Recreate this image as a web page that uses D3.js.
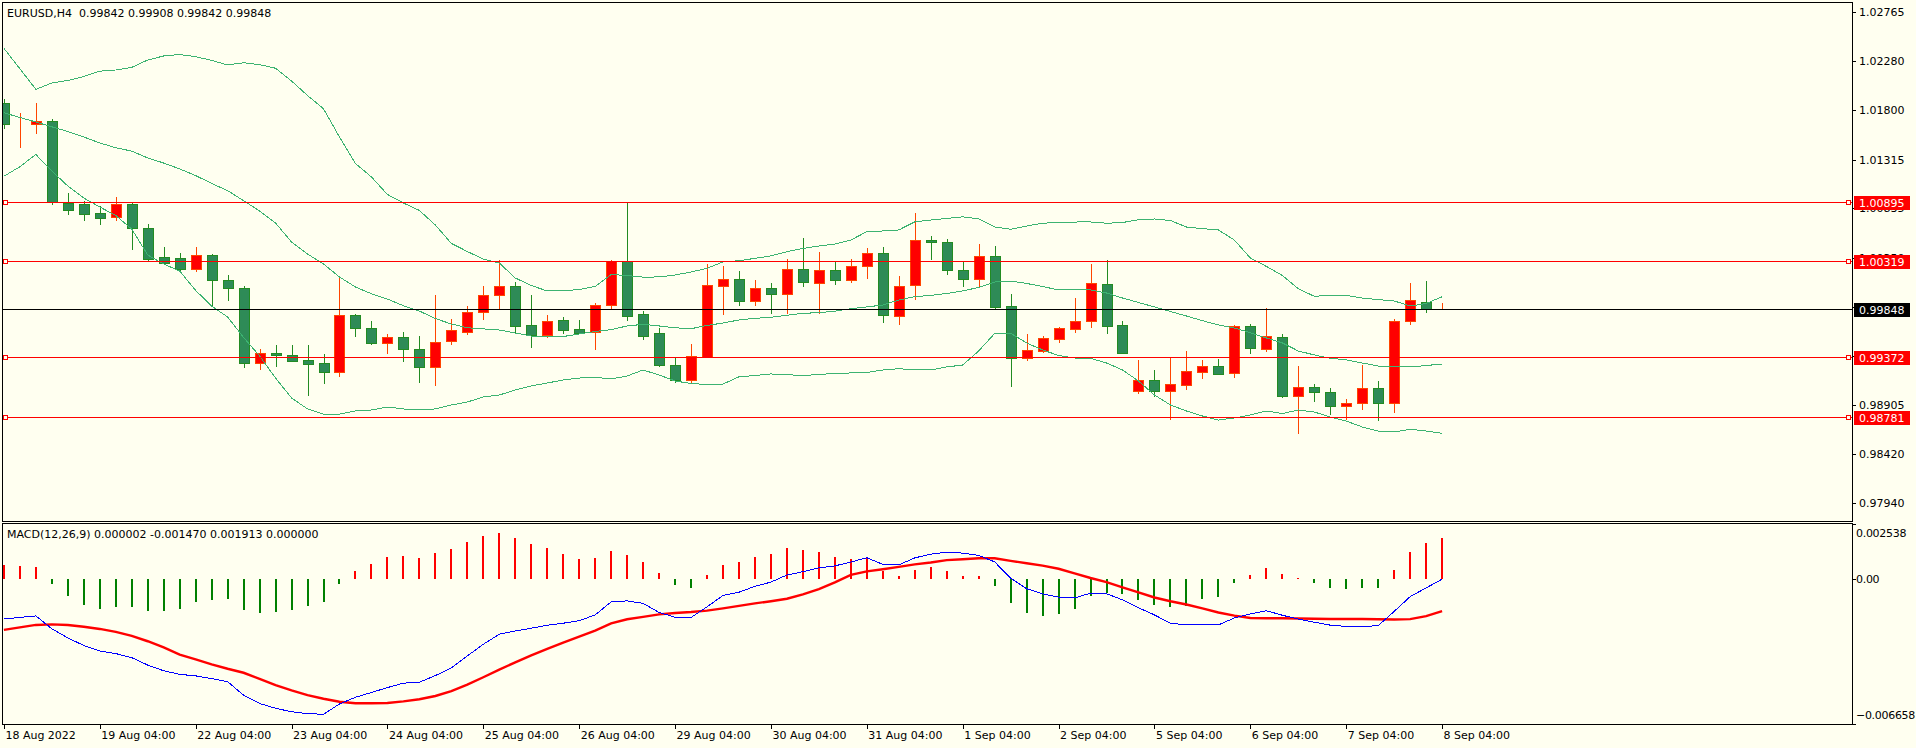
<!DOCTYPE html>
<html><head><meta charset="utf-8">
<script src="https://cdn.jsdelivr.net/npm/d3@7"></script>
<style>
html,body{margin:0;padding:0;background:#fffff0;overflow:hidden;}
svg{display:block;font-family:"DejaVu Sans",sans-serif;font-size:11px;}
text{white-space:pre;}
</style></head><body>
<svg id="c" width="1916" height="748"></svg>
<script>
// ---------- DATA ----------
const symbolTitle = "EURUSD,H4  0.99842 0.99908 0.99842 0.99848";
const macdTitle = "MACD(12,26,9) 0.000002 -0.001470 0.001913 0.000000";

const timeLabels = ["18 Aug 2022","19 Aug 04:00","22 Aug 04:00","23 Aug 04:00","24 Aug 04:00","25 Aug 04:00",
  "26 Aug 04:00","29 Aug 04:00","30 Aug 04:00","31 Aug 04:00","1 Sep 04:00","2 Sep 04:00","5 Sep 04:00",
  "6 Sep 04:00","7 Sep 04:00","8 Sep 04:00"];
const timeLabelBars = [0,6,12,18,24,30,36,42,48,54,60,66,72,78,84,90];

const priceTicks = [1.02765,1.02280,1.01800,1.01315,1.00835,1.00350,0.99870,0.99385,0.98905,0.98420,0.97940];
const levelLines = [1.00895,1.00319,0.99372,0.98781];
const bidPrice = 0.99848;
const macdTicks = [0.002538,0,-0.006658];

const openP = [1.01868,1.01662,1.01662,1.01691,1.00885,1.00878,1.00787,1.00748,1.00878,1.00642,
1.00354,1.00344,1.00242,1.00374,1.00128,1.00049,0.99312,0.99410,0.99391,0.99344,
0.99312,0.99229,0.99784,0.99656,0.99514,0.99568,0.99450,0.99273,0.99528,0.99617,
0.99813,0.99980,1.00069,0.99686,0.99593,0.99735,0.99646,0.99617,0.99882,1.00315,
0.99794,0.99607,0.99292,0.99151,0.99371,1.00075,1.00138,0.99922,1.00049,0.99990,
1.00236,1.00099,1.00226,1.00128,1.00266,1.00394,0.99774,1.00079,1.00521,1.00502,
1.00229,1.00138,1.00364,0.99872,0.99361,0.99436,0.99554,0.99652,0.99725,1.00089,
0.99686,0.99043,0.99145,0.99043,0.99102,0.99229,0.99282,0.99214,0.99675,0.99455,
0.99568,0.98993,0.99076,0.99027,0.98895,0.98919,0.99066,0.98919,0.99725,0.99914,
0.99842];
const highP = [1.01908,1.01770,1.01871,1.01711,1.00983,1.00908,1.00859,1.00950,1.00891,1.00682,
1.00455,1.00396,1.00455,1.00387,1.00180,1.00069,0.99450,0.99489,0.99489,0.99489,
0.99400,1.00170,0.99794,0.99731,0.99600,0.99620,0.99580,0.99984,0.99748,0.99872,
1.00072,1.00328,1.00114,0.99987,0.99787,0.99770,0.99738,0.99902,1.00328,1.00900,
0.99826,0.99659,0.99361,0.99502,1.00288,1.00269,1.00222,1.00131,1.00101,1.00338,
1.00541,1.00406,1.00311,1.00338,1.00446,1.00456,1.00170,1.00790,1.00564,1.00531,
1.00311,1.00485,1.00465,0.99990,0.99600,0.99580,0.99669,0.99954,1.00288,1.00328,
0.99728,0.99344,0.99246,0.99371,0.99433,0.99344,0.99354,0.99685,0.99698,0.99856,
0.99600,0.99282,0.99108,0.99066,0.98961,0.99292,0.99135,0.99748,1.00101,1.00121,
0.99908];
const lowP = [1.01623,1.01442,1.01573,1.00875,1.00780,1.00724,1.00685,1.00724,1.00439,1.00321,
1.00295,1.00229,1.00222,0.99875,0.99937,0.99273,0.99253,0.99288,0.99330,0.98997,
0.99121,0.99190,0.99580,0.99502,0.99413,0.99337,0.99131,0.99095,0.99505,0.99603,
0.99751,0.99856,0.99620,0.99475,0.99573,0.99613,0.99613,0.99456,0.99849,0.99741,
0.99554,0.99282,0.99131,0.99131,0.99371,0.99800,0.99888,0.99888,0.99810,0.99810,
1.00075,0.99810,1.00095,1.00114,1.00154,0.99721,0.99701,0.99941,1.00340,1.00193,
1.00072,1.00065,0.99853,0.99092,0.99344,0.99420,0.99521,0.99620,0.99672,0.99613,
0.99416,0.99023,0.98990,0.98767,0.99059,0.99167,0.99210,0.99180,0.99416,0.99436,
0.98984,0.98630,0.98944,0.98816,0.98760,0.98866,0.98750,0.98830,0.99701,0.99819,
0.99842];
const closeP = [1.01662,1.01662,1.01691,1.00898,1.00822,1.00783,1.00744,1.00878,1.00645,1.00340,
1.00295,1.00242,1.00374,1.00128,1.00049,0.99312,0.99410,0.99391,0.99337,0.99308,
0.99229,0.99784,0.99662,0.99514,0.99568,0.99450,0.99273,0.99524,0.99636,0.99813,
0.99980,1.00069,0.99682,0.99593,0.99725,0.99642,0.99613,0.99882,1.00315,0.99780,
0.99577,0.99292,0.99151,0.99381,1.00079,1.00138,0.99922,1.00049,0.99990,1.00236,
1.00108,1.00226,1.00128,1.00266,1.00394,0.99784,1.00069,1.00521,1.00502,1.00226,
1.00138,1.00364,0.99868,0.99361,0.99440,0.99558,0.99656,0.99725,1.00099,0.99682,
0.99416,0.99145,0.99043,0.99106,0.99233,0.99282,0.99210,0.99675,0.99459,0.99577,
0.98993,0.99076,0.99027,0.98895,0.98919,0.99066,0.98919,0.99725,0.99931,0.99843,
0.99848];

const bbUpper = [1.02409,1.02208,1.02006,1.02068,1.02093,1.02132,1.02184,1.02196,1.02222,1.02294,
1.02334,1.02348,1.02327,1.02290,1.02246,1.02267,1.02249,1.02213,1.02088,1.01945,
1.01815,1.01537,1.01277,1.01144,1.00972,1.00888,1.00815,1.00672,1.00491,1.00411,
1.00337,1.00298,1.00151,1.00077,1.00023,1.00023,1.00038,1.00067,1.00185,1.00175,
1.00159,1.00161,1.00180,1.00210,1.00245,1.00310,1.00320,1.00344,1.00368,1.00409,
1.00441,1.00465,1.00485,1.00524,1.00606,1.00613,1.00623,1.00703,1.00721,1.00736,
1.00752,1.00733,1.00652,1.00630,1.00662,1.00690,1.00695,1.00701,1.00702,1.00689,
1.00696,1.00724,1.00731,1.00716,1.00652,1.00636,1.00623,1.00524,1.00347,1.00265,
1.00176,1.00045,0.99971,0.99979,0.99979,0.99953,0.99938,0.99925,0.99875,0.99900,
0.99966];
const bbMiddle = [1.01775,1.01729,1.01685,1.01637,1.01591,1.01537,1.01478,1.01432,1.01398,1.01331,
1.01281,1.01223,1.01158,1.01080,1.01010,1.00911,1.00809,1.00691,1.00505,1.00387,
1.00288,1.00161,1.00062,0.99996,0.99944,0.99878,0.99826,0.99752,0.99698,0.99662,
0.99650,0.99639,0.99610,0.99580,0.99572,0.99575,0.99600,0.99625,0.99643,0.99679,
0.99695,0.99679,0.99661,0.99652,0.99684,0.99708,0.99738,0.99754,0.99764,0.99784,
0.99803,0.99810,0.99824,0.99849,0.99866,0.99885,0.99934,0.99967,0.99980,0.99998,
1.00023,1.00058,1.00111,1.00121,1.00097,1.00067,1.00033,1.00033,1.00033,1.00003,
0.99954,0.99910,0.99866,0.99821,0.99777,0.99731,0.99689,0.99659,0.99613,0.99561,
0.99513,0.99433,0.99394,0.99362,0.99346,0.99315,0.99285,0.99276,0.99276,0.99290,
0.99305];
const bbLower = [1.01151,1.01245,1.01365,1.01203,1.01055,1.00937,1.00849,1.00765,1.00632,1.00377,
1.00288,1.00219,1.00028,0.99875,0.99767,0.99566,0.99384,0.99167,0.98971,0.98863,
0.98813,0.98813,0.98843,0.98853,0.98882,0.98863,0.98853,0.98863,0.98902,0.98931,
0.98981,0.99000,0.99049,0.99089,0.99118,0.99148,0.99167,0.99174,0.99158,0.99187,
0.99246,0.99197,0.99138,0.99113,0.99103,0.99108,0.99179,0.99192,0.99207,0.99200,
0.99191,0.99202,0.99212,0.99217,0.99221,0.99246,0.99259,0.99246,0.99246,0.99276,
0.99295,0.99433,0.99605,0.99607,0.99512,0.99443,0.99389,0.99364,0.99361,0.99315,
0.99246,0.99138,0.99000,0.98902,0.98843,0.98794,0.98754,0.98774,0.98804,0.98843,
0.98818,0.98853,0.98833,0.98784,0.98744,0.98686,0.98646,0.98636,0.98663,0.98646,
0.98624];

const macdMain = [-0.001827,-0.001758,-0.001689,-0.002278,-0.002701,-0.003046,-0.003299,-0.003419,-0.003607,-0.003948,
-0.004210,-0.004376,-0.004445,-0.004569,-0.004711,-0.005333,-0.005714,-0.005935,-0.006096,-0.006179,
-0.006211,-0.005737,-0.005429,-0.005208,-0.004983,-0.004780,-0.004739,-0.004431,-0.004081,-0.003529,
-0.002991,-0.002531,-0.002379,-0.002254,-0.002116,-0.002024,-0.001909,-0.001643,-0.001044,-0.000998,
-0.001109,-0.001528,-0.001748,-0.001758,-0.001274,-0.000745,-0.000598,-0.000327,-0.000133,0.000193,
0.000345,0.000520,0.000612,0.000787,0.000989,0.000681,0.000658,0.000980,0.001150,0.001240,
0.001200,0.001095,0.000796,0.000046,-0.000437,-0.000676,-0.000828,-0.000860,-0.000644,-0.000667,
-0.000952,-0.001311,-0.001643,-0.002024,-0.002103,-0.002103,-0.002103,-0.001781,-0.001597,-0.001449,
-0.001656,-0.001836,-0.001978,-0.002112,-0.002172,-0.002181,-0.002135,-0.001482,-0.000801,-0.000400,
0.000002];
const macdSignal = [-0.002333,-0.002218,-0.002103,-0.002075,-0.002103,-0.002185,-0.002287,-0.002425,-0.002609,-0.002853,
-0.003138,-0.003469,-0.003690,-0.003916,-0.004118,-0.004302,-0.004587,-0.004868,-0.005112,-0.005333,
-0.005498,-0.005632,-0.005701,-0.005705,-0.005691,-0.005618,-0.005521,-0.005369,-0.005149,-0.004849,
-0.004509,-0.004155,-0.003823,-0.003506,-0.003207,-0.002912,-0.002646,-0.002365,-0.002034,-0.001840,
-0.001735,-0.001615,-0.001551,-0.001509,-0.001445,-0.001343,-0.001228,-0.001113,-0.001012,-0.000897,
-0.000699,-0.000456,-0.000147,0.000198,0.000359,0.000460,0.000566,0.000681,0.000768,0.000879,
0.000920,0.000966,0.000962,0.000842,0.000736,0.000626,0.000479,0.000271,0.000055,-0.000138,
-0.000377,-0.000607,-0.000842,-0.001012,-0.001164,-0.001339,-0.001532,-0.001675,-0.001781,-0.001794,
-0.001794,-0.001804,-0.001817,-0.001827,-0.001827,-0.001827,-0.001840,-0.001850,-0.001836,-0.001698,
-0.001470];
const macdHist = [0.000658,0.000610,0.000566,-0.000202,-0.000753,-0.001180,-0.001370,-0.001270,-0.001300,-0.001440,
-0.001440,-0.001370,-0.001030,-0.000940,-0.000890,-0.001400,-0.001540,-0.001490,-0.001400,-0.001230,
-0.001030,-0.000200,0.000380,0.000700,0.001030,0.001070,0.000980,0.001220,0.001390,0.001720,
0.001970,0.002120,0.001880,0.001630,0.001420,0.001150,0.000930,0.000980,0.001290,0.001090,
0.000800,0.000290,-0.000260,-0.000390,0.000200,0.000660,0.000810,0.001030,0.001140,0.001420,
0.001360,0.001270,0.001040,0.000930,0.000990,0.000380,0.000170,0.000430,0.000570,0.000380,
0.000150,0.000150,-0.000290,-0.001080,-0.001540,-0.001670,-0.001580,-0.001350,-0.000750,-0.000620,
-0.000700,-0.000940,-0.001170,-0.001260,-0.001210,-0.000920,-0.000800,-0.000160,0.000200,0.000530,
0.000240,0.000070,-0.000160,-0.000390,-0.000460,-0.000390,-0.000390,0.000430,0.001260,0.001670,
0.001913];

// ---------- LAYOUT ----------
const BG = "#fffff0";
const L = 2, R = 1852;
const mainTop = 2, mainBot = 521, macdTop = 523, macdBot = 724;
const bars = d3.range(openP.length);

const svg = d3.select("#c");
svg.append("rect").attr("width",1916).attr("height",748).attr("fill",BG);

const x = d3.scaleLinear().domain([0, 90]).range([3.9, 1442.1]);
const y = d3.scaleLinear().domain([0.977612, 1.028645]).range([mainBot, mainTop]);
const ym = d3.scaleLinear().domain([-0.006658, 0.002538]).range([macdBot, macdTop + 1]);

const defs = svg.append("defs");
defs.append("clipPath").attr("id","clipMain").append("rect")
  .attr("x",L+1).attr("y",mainTop+1).attr("width",R-L-1).attr("height",mainBot-mainTop-1);
defs.append("clipPath").attr("id","clipMacd").append("rect")
  .attr("x",L+1).attr("y",macdTop+1).attr("width",R-L-1).attr("height",macdBot-macdTop-1);

const px = v => Math.round(v);

// ---------- MAIN PANEL ----------
const gMain = svg.append("g").attr("clip-path","url(#clipMain)");

// Candles
const bull = i => closeP[i] >= openP[i];
const gC = gMain.append("g").attr("shape-rendering","crispEdges");
gC.selectAll("line.wick").data(bars).join("line").attr("class","wick")
  .attr("x1", i => px(x(i)) + 0.5).attr("x2", i => px(x(i)) + 0.5)
  .attr("y1", i => px(y(highP[i]))).attr("y2", i => px(y(lowP[i])) + 1)
  .attr("stroke", i => bull(i) ? "#ff4500" : "#228b22").attr("stroke-width",1);
gC.selectAll("rect.body").data(bars).join("rect").attr("class","body")
  .attr("x", i => px(x(i)) - 4.5)
  .attr("y", i => px(y(Math.max(openP[i], closeP[i]))) + 0.5)
  .attr("width", 10)
  .attr("height", i => Math.max(0, px(y(Math.min(openP[i], closeP[i]))) - px(y(Math.max(openP[i], closeP[i])))))
  .attr("fill", i => bull(i) ? "#ff0000" : "#2e8b57")
  .attr("stroke", i => bull(i) ? "#ff4500" : "#228b22").attr("stroke-width",1);

// Bollinger bands
const bandLine = arr => d3.line().x(i => x(i)).y(i => y(arr[i]))(bars);
[bbUpper, bbMiddle, bbLower].forEach(arr => {
  gMain.append("path").attr("d", bandLine(arr)).attr("fill","none")
    .attr("stroke","#3cb371").attr("stroke-width",1).attr("shape-rendering","crispEdges");
});

// Horizontal level lines
const gLv = svg.append("g").attr("shape-rendering","crispEdges");
levelLines.forEach(v => {
  const yy = px(y(v)) + 0.5;
  gLv.append("line").attr("x1",L).attr("x2",R).attr("y1",yy).attr("y2",yy)
    .attr("stroke","#ff0000").attr("stroke-width",1);
  gLv.append("rect").attr("x",L+1.5).attr("y",yy-2).attr("width",4).attr("height",4)
    .attr("fill",BG).attr("stroke","#ff0000");
  gLv.append("rect").attr("x",R-5.5).attr("y",yy-2).attr("width",4).attr("height",4)
    .attr("fill",BG).attr("stroke","#ff0000");
});
// Bid line
gLv.append("line").attr("x1",L).attr("x2",R)
  .attr("y1",px(y(bidPrice))+0.5).attr("y2",px(y(bidPrice))+0.5)
  .attr("stroke","#000").attr("stroke-width",1);

// ---------- MACD PANEL ----------
const gM = svg.append("g").attr("clip-path","url(#clipMacd)");
gM.append("g").attr("shape-rendering","crispEdges")
  .selectAll("rect").data(bars).join("rect")
  .attr("x", i => px(x(i)) - 1)
  .attr("width", 2)
  .attr("y", i => px(Math.min(ym(0), ym(macdHist[i]))))
  .attr("height", i => Math.abs(px(ym(macdHist[i])) - px(ym(0))))
  .attr("fill", i => macdHist[i] >= 0 ? "#ff0000" : "#008000");
gM.append("path").attr("d", d3.line().x(i => x(i)).y(i => ym(macdSignal[i]))(bars))
  .attr("fill","none").attr("stroke","#ff0000").attr("stroke-width",2.4);
gM.append("path").attr("d", d3.line().x(i => x(i)).y(i => ym(macdMain[i]))(bars))
  .attr("fill","none").attr("stroke","#0000ff").attr("stroke-width",1).attr("shape-rendering","crispEdges");

// ---------- FRAMES ----------
const gF = svg.append("g").attr("shape-rendering","crispEdges").attr("fill","none").attr("stroke","#000");
gF.append("rect").attr("x",L+0.5).attr("y",mainTop+0.5).attr("width",R-L).attr("height",mainBot-mainTop);
gF.append("rect").attr("x",L+0.5).attr("y",macdTop+0.5).attr("width",R-L).attr("height",macdBot-macdTop);

// ---------- AXES ----------
const styleAxis = g => {
  g.select(".domain").remove();
  g.selectAll(".tick line").attr("stroke","#000").attr("shape-rendering","crispEdges");
  g.selectAll(".tick text").attr("fill","#000")
    .style("font-family","'DejaVu Sans',sans-serif").style("font-size","11px");
};
const yAxis = d3.axisRight(y).tickValues(priceTicks).tickFormat(d3.format(".5f")).tickSize(4).tickPadding(3);
svg.append("g").attr("transform",`translate(${R},0)`).call(yAxis).call(styleAxis);

const mAxis = d3.axisRight(ym).tickValues(macdTicks)
  .tickFormat(d => d === 0 ? "0.00" : d3.format(".6f")(d)).tickSize(4).tickPadding(0);
const gma = svg.append("g").attr("transform",`translate(${R},0)`).call(mAxis).call(styleAxis);
gma.selectAll(".tick text")
  .attr("dy", d => d > 0 ? "1.15em" : (d < 0 ? "-0.5em" : "0.32em"))
  .style("letter-spacing", "-0.3px");

const xAxis = d3.axisBottom(x).tickValues(timeLabelBars)
  .tickFormat((d,k) => timeLabels[k]).tickSize(5).tickSizeOuter(0);
const gx = svg.append("g").attr("transform",`translate(0,${macdBot})`).call(xAxis).call(styleAxis);
gx.selectAll(".tick text").attr("text-anchor","start").attr("x",1).attr("y",7);

// Price labels on the axis (levels + bid)
const gTag = svg.append("g");
const tag = (v, bg) => {
  const yy = px(y(v));
  gTag.append("rect").attr("x",R+2).attr("y",yy-6).attr("width",56).attr("height",14)
    .attr("fill",bg).attr("shape-rendering","crispEdges");
  gTag.append("text").attr("x",R+7).attr("y",yy+5).attr("fill","#fff").text(d3.format(".5f")(v));
};
levelLines.forEach(v => tag(v, "#ff0000"));
tag(bidPrice, "#000000");

// ---------- TITLES ----------
svg.append("text").attr("x",7).attr("y",17).attr("fill","#000").text(symbolTitle);
svg.append("text").attr("x",7).attr("y",macdTop+15).attr("fill","#000").text(macdTitle);
</script>
</body></html>
